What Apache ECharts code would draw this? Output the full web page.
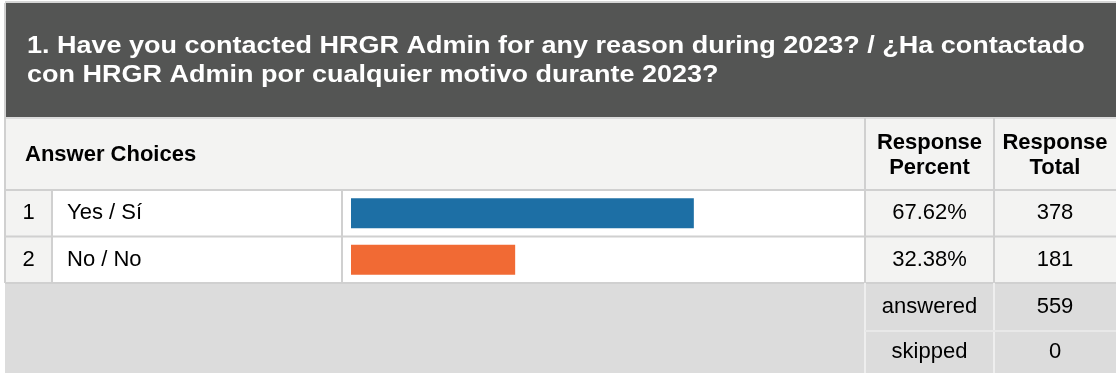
<!DOCTYPE html>
<html>
<head>
<meta charset="utf-8">
<script src="https://cdn.jsdelivr.net/npm/echarts@6/dist/echarts.min.js"></script>
<style>
html,body{margin:0;padding:0;background:#fff;}
#c{width:1116px;height:373px;}
</style>
</head>
<body>
<div id="c"></div>
<script>
// ---- data ----
const titleLines = ['1. Have you contacted HRGR Admin for any reason during 2023? / ¿Ha contactado', 'con HRGR Admin por cualquier motivo durante 2023?'];
const categories = ['Yes / Sí', 'No / No'];
const percents = [67.62, 32.38];
const totals = [378, 181];
const summaryLabels = ['answered', 'skipped'];
const summaryValues = [559, 0];
const barColors = ['#1d6fa5', '#f16a34'];

// ---- layout ----
const FONT = 'Liberation Sans';
const X0 = 5, X1 = 1116;
const colNum = 52, colText = 342, colBar = 865, colPct = 994;
const yHead0 = 3, yHead1 = 118, yRow0 = 190, rowH = 46.5, yFoot = 283, yFootMid = 331, Y1 = 373;
const LINE = '#d0d0d0';

const g = [];
function rect(x, y, w, h, fill) { g.push({type: 'rect', shape: {x, y, width: w, height: h}, style: {fill}, silent: true}); }
function line(x1, y1, x2, y2, stroke, w) { g.push({type: 'line', shape: {x1, y1, x2, y2}, style: {stroke, lineWidth: w || 2}, silent: true}); }
function text(t, x, y, opts, extra) {
  g.push(Object.assign({type: 'text', x, y, silent: true, z: 10, style: Object.assign({text: t, fontFamily: FONT, fontSize: 22, fontWeight: 'normal', fill: '#000', align: 'left', verticalAlign: 'middle'}, opts || {})}, extra || {}));
}

// backgrounds
rect(X0, 1, X1 - X0, 2, '#d6d6d6');
rect(X0, yHead0, X1 - X0, yHead1 - yHead0, '#545554');
rect(X0, yHead1, X1 - X0, yRow0 - yHead1, '#f3f3f2');
rect(X0, yRow0, colNum - X0, yFoot - yRow0, '#f3f3f2');
rect(colNum, yRow0, colBar - colNum, yFoot - yRow0, '#ffffff');
rect(colBar, yRow0, X1 - colBar, yFoot - yRow0, '#f3f3f2');
rect(X0, yFoot, X1 - X0, Y1 - yFoot, '#dcdcdc');

// grid lines
line(X0, yHead1, X1, yHead1, '#dcdcdc', 2);
line(X0, yRow0, X1, yRow0, LINE, 2);
line(X0, yRow0 + rowH, X1, yRow0 + rowH, LINE, 2);
line(X0, yFoot, X1, yFoot, LINE, 2);
line(X0, yHead0, X0, yFoot, LINE, 2);
line(colNum, yRow0, colNum, yFoot, LINE, 2);
line(colText, yRow0, colText, yFoot, LINE, 2);
line(colBar, yHead1, colBar, yFoot, LINE, 2);
line(colPct, yHead1, colPct, yFoot, LINE, 2);
line(colBar, yFoot, colBar, Y1, '#eeeeee', 2);
line(colPct, yFoot, colPct, Y1, '#eeeeee', 2);
line(colBar, yFootMid, X1, yFootMid, '#e8e8e8', 2);

// title
titleLines.forEach((t, i) => text(t, 27, 46 + i * 29, {fontWeight: 'bold', fontSize: 24, fill: '#ffffff'}, {scaleX: 1.125}));
// header row
text('Answer Choices', 25, 155, {fontWeight: 'bold'});
const cPct = (colBar + colPct) / 2, cTot = (colPct + X1) / 2;
text('Response\nPercent', cPct, 155, {fontWeight: 'bold', align: 'center', lineHeight: 25});
text('Response\nTotal', cTot, 155, {fontWeight: 'bold', align: 'center', lineHeight: 25});
// rows
categories.forEach((c, i) => {
  const y = yRow0 + rowH * (i + 0.5);
  text(String(i + 1), (X0 + colNum) / 2, y, {align: 'center'});
  text(c, 67, y);
  text(percents[i].toFixed(2) + '%', cPct, y, {align: 'center'});
  text(String(totals[i]), cTot, y, {align: 'center'});
});
summaryLabels.forEach((s, i) => {
  const y = i === 0 ? (yFoot + yFootMid) / 2 : (yFootMid + Y1) / 2;
  text(s, cPct, y, {align: 'center'});
  text(String(summaryValues[i]), cTot, y, {align: 'center'});
});

const chart = echarts.init(document.getElementById('c'), null, {renderer: 'canvas'});
chart.setOption({
  animation: false,
  backgroundColor: '#ffffff',
  graphic: {elements: g},
  grid: {left: 351, top: yRow0, width: 507, height: yFoot - yRow0, containLabel: false},
  xAxis: {type: 'value', min: 0, max: 100, show: false},
  yAxis: {type: 'category', data: categories, inverse: true, show: false},
  series: [{
    type: 'bar',
    barWidth: 30,
    z: 5,
    data: percents.map((v, i) => ({value: v, itemStyle: {color: barColors[i]}}))
  }]
});
</script>
</body>
</html>
